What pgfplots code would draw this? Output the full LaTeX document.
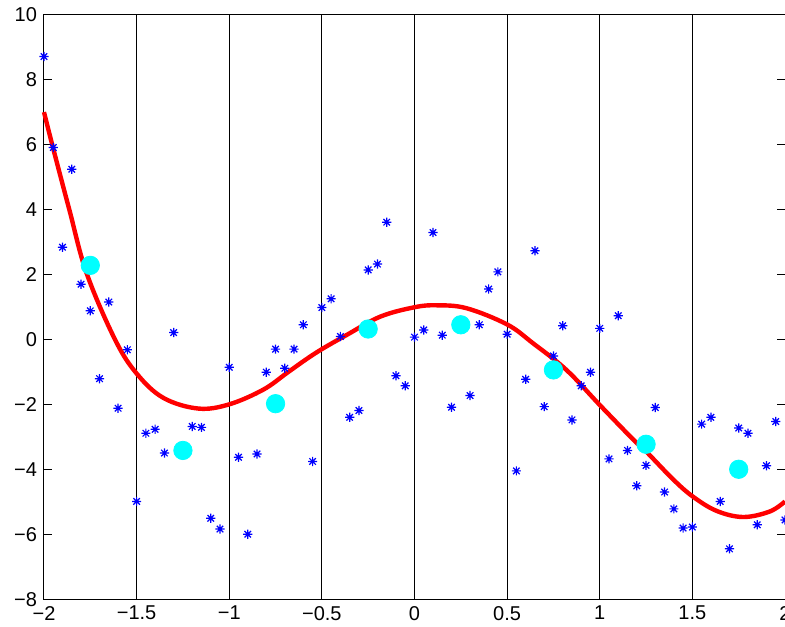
\documentclass[border=0pt]{standalone}
\usepackage{fontspec}
\setmainfont{Liberation Sans}
\usepackage{pgfplots}
\pgfplotsset{compat=1.18}

\definecolor{mred}{rgb}{1,0,0}
\definecolor{mblue}{rgb}{0,0,1}
\definecolor{mcyan}{rgb}{0,1,1}

% MATLAB style '*' marker: plus and cross together
\pgfdeclareplotmark{mstar}{%
  \pgfpathmoveto{\pgfqpoint{-\pgfplotmarksize}{0pt}}%
  \pgfpathlineto{\pgfqpoint{\pgfplotmarksize}{0pt}}%
  \pgfpathmoveto{\pgfqpoint{0pt}{-\pgfplotmarksize}}%
  \pgfpathlineto{\pgfqpoint{0pt}{\pgfplotmarksize}}%
  \pgfpathmoveto{\pgfqpoint{-.707\pgfplotmarksize}{-.707\pgfplotmarksize}}%
  \pgfpathlineto{\pgfqpoint{.707\pgfplotmarksize}{.707\pgfplotmarksize}}%
  \pgfpathmoveto{\pgfqpoint{-.707\pgfplotmarksize}{.707\pgfplotmarksize}}%
  \pgfpathlineto{\pgfqpoint{.707\pgfplotmarksize}{-.707\pgfplotmarksize}}%
  \pgfusepathqstroke}

\begin{document}
\begin{tikzpicture}
\begin{axis}[
    width=370.6pt, height=292.3pt,
    scale only axis,
    xmin=-2, xmax=2, ymin=-8, ymax=10,
    xtick={-2,-1.5,...,2},
    ytick={-8,-6,...,10},
    xticklabels={−2,−1.5,−1,−0.5,0,0.5,1,1.5,2},
    yticklabels={−8,−6,−4,−2,0,2,4,6,8,10},
    tick label style={font=\fontsize{10}{12}\selectfont},
    tick align=inside,
    major tick length=3.8pt,
    tick style={black, line width=0.5pt},
    axis line style={black, line width=0.5pt},
    xmajorgrids,
    major grid style={black, line width=0.5pt},
    clip=false,
]

% fitted curve
\addplot[mred, line width=2.2pt, smooth, tension=0.6] coordinates {
    (-2.0,7.0) (-1.953,5.94) (-1.863,3.99) (-1.77,2.04) (-1.617,0.0)
    (-1.5,-1.05) (-1.356,-1.80) (-1.167,-2.13) (-1.0,-2.0) (-0.817,-1.55)
    (-0.69,-1.04) (-0.589,-0.63) (-0.5,-0.30) (-0.365,0.14) (-0.185,0.70)
    (0.0,0.99) (0.119,1.05) (0.281,0.96) (0.5,0.46) (0.64,-0.12)
    (0.82,-0.94) (1.0,-2.02) (1.18,-3.08) (1.25,-3.45) (1.394,-4.30)
    (1.5,-4.83) (1.63,-5.28) (1.774,-5.47) (1.918,-5.30) (2.0,-4.99)
};

% samples
\addplot[only marks, mblue, mark=mstar, mark size=2.3pt,
         mark options={line width=0.6pt}] coordinates {
    (-2.00,8.71) (-1.95,5.91) (-1.90,2.84) (-1.85,5.24) (-1.80,1.70)
    (-1.75,0.88) (-1.70,-1.21) (-1.65,1.15) (-1.60,-2.12) (-1.55,-0.32)
    (-1.50,-4.99) (-1.45,-2.89) (-1.40,-2.77) (-1.35,-3.50) (-1.30,0.21)
    (-1.25,-3.52) (-1.20,-2.68) (-1.15,-2.71) (-1.10,-5.51) (-1.05,-5.84)
    (-1.00,-0.86) (-0.95,-3.63) (-0.90,-6.00) (-0.85,-3.53) (-0.80,-1.01)
    (-0.75,-0.30) (-0.70,-0.89) (-0.65,-0.30) (-0.60,0.45) (-0.55,-3.76)
    (-0.50,0.98) (-0.45,1.25) (-0.40,0.09) (-0.35,-2.40) (-0.30,-2.19)
    (-0.25,2.14) (-0.20,2.32) (-0.15,3.61) (-0.10,-1.12) (-0.05,-1.43)
    (0.00,0.07) (0.05,0.29) (0.10,3.29) (0.15,0.13) (0.20,-2.09)
    (0.25,0.46) (0.30,-1.73) (0.35,0.45) (0.40,1.55) (0.45,2.08)
    (0.50,0.16) (0.55,-4.05) (0.60,-1.23) (0.65,2.73) (0.70,-2.07)
    (0.75,-0.51) (0.80,0.42) (0.85,-2.48) (0.90,-1.43) (0.95,-1.01)
    (1.00,0.34) (1.05,-3.68) (1.10,0.73) (1.15,-3.42) (1.20,-4.51)
    (1.25,-3.88) (1.30,-2.10) (1.35,-4.70) (1.40,-5.22) (1.45,-5.81)
    (1.50,-5.78) (1.55,-2.61) (1.60,-2.40) (1.65,-4.99) (1.70,-6.45)
    (1.75,-2.73) (1.80,-2.89) (1.85,-5.71) (1.90,-3.89) (1.95,-2.53)
    (2.00,-5.56)
};

% bin means
\addplot[only marks, mark=*, mark size=4.6pt, mcyan,
         mark options={fill=mcyan, draw=mcyan}] coordinates {
    (-1.75,2.28) (-1.25,-3.42) (-0.75,-1.98) (-0.25,0.32)
    (0.25,0.45) (0.75,-0.94) (1.25,-3.23) (1.75,-4.0)
};

\end{axis}
\pgfresetboundingbox
\path ([shift={(-22pt,-13.9pt)}]current axis.south west)
      rectangle ([shift={(0pt,7.35pt)}]current axis.north east);
\end{tikzpicture}
\end{document}
